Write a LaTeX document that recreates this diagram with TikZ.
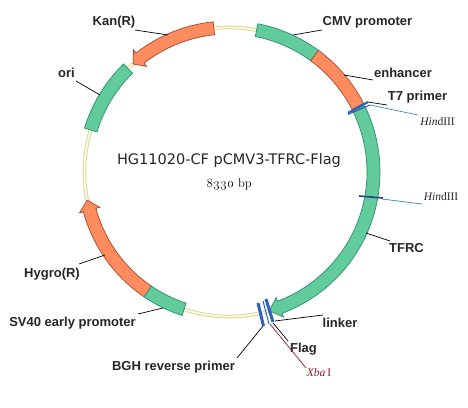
\documentclass[tikz,border=0pt]{standalone}
\usepackage{fontspec}
\setmainfont{Liberation Sans}
\newfontfamily\titlefont{DejaVu Sans}
\newfontfamily\serifpart{Liberation Serif}
\newfontfamily\oldnum[Numbers=OldStyle]{Latin Modern Roman}
\usetikzlibrary{calc}
\definecolor{grn}{HTML}{62CB9B}
\definecolor{grnb}{HTML}{2A8F6C}
\definecolor{org}{HTML}{FF8B5E}
\definecolor{orgb}{HTML}{A5492C}
\definecolor{ringo}{HTML}{D9D69A}
\definecolor{ringi}{HTML}{FDFBDD}
\definecolor{mark}{HTML}{2F5FC0}
\definecolor{site}{HTML}{3A8DB0}
\definecolor{xba}{HTML}{8A1A2C}
\tikzset{
  x=1pt,y=1pt,
  lab/.style={font=\fontsize{13}{15}\selectfont\bfseries, inner sep=0pt, text=black!85},
  enz/.style={font=\fontsize{11.5}{13}\selectfont\serifpart, inner sep=0pt, text=black!85},
  lead/.style={draw=black, line width=0.7pt},
  sitelead/.style={draw=site, line width=0.7pt},
  xbalead/.style={draw=xba, line width=0.7pt},
  grnseg/.style={fill=grn, draw=grnb, line width=0.7pt},
  orgseg/.style={fill=org, draw=orgb, line width=0.7pt},
  bar/.style={draw=mark, line width=3pt},
  thinbar/.style={draw=mark, line width=1pt},
}
\newcommand{\seg}[3]{% style, from angle, to angle
  \path[#1] (c) ++(#2:151) arc[start angle=#2,end angle=#3,radius=151]
    -- ($(c)+(#3:138)$) arc[start angle=#3,end angle=#2,radius=138] -- cycle;}
\newcommand{\arrowseg}[4]{% style, from, base, tip
  \path[#1] (c) ++(#2:151) arc[start angle=#2,end angle=#3,radius=151]
    -- ($(c)+(#3:155)$) -- ($(c)+(#4:144.5)$) -- ($(c)+(#3:134)$) -- ($(c)+(#3:138)$)
    arc[start angle=#3,end angle=#2,radius=138] -- cycle;}
\begin{document}
\begin{tikzpicture}
\useasboundingbox (0,0) rectangle (468,407);
\fill[white] (0,0) rectangle (468,407);
\coordinate (c) at (229,235);
% backbone
\draw[ringo, line width=3.6pt] (c) circle[radius=144.5];
\draw[ringi, line width=1.8pt] (c) circle[radius=144.5];
% features
\seg{grnseg}{79}{53.7}
\seg{orgseg}{53.7}{27}
\arrowseg{grnseg}{26}{-69.4}{-73.8}
\arrowseg{orgseg}{96}{128}{131.6}
\seg{grnseg}{134.3}{163.1}
\arrowseg{orgseg}{235.8}{195.3}{191.2}
\seg{grnseg}{235.8}{251.9}
% labels
\node[lab] (cmv) at (367.5,385) {CMV promoter};
\node[lab] (enh) at (403,334) {enhancer};
\node[lab] (t7) at (417.5,310) {T7 primer};
\node[enz] (h1) at (437.5,285) {\textit{Hin}dIII};
\node[enz] (h2) at (441,210) {\textit{Hin}dIII};
\node[lab] (tfrc) at (406.5,159) {TFRC};
\node[lab] (linker) at (340,84) {linker};
\node[lab] (flag) at (303.5,58) {Flag};
\node[enz, text=xba] (xb) at (319,34) {\textit{Xba}\,I};
\node[lab] (bgh) at (173.5,40) {BGH reverse primer};
\node[lab] (sv) at (72.5,84) {SV40 early promoter};
\node[lab] (hyg) at (52,133) {Hygro(R)};
\node[lab] (ori) at (66.5,334) {ori};
\node[lab] (kan) at (114,385) {Kan(R)};
\node[font=\fontsize{14.5}{16}\selectfont\titlefont, inner sep=0pt, text=black!85] (title) at (229,246) {HG11020-CF pCMV3-TFRC-Flag};
\node[font=\fontsize{12.5}{14}\selectfont\oldnum, inner sep=0pt, text=black] (bp) at (229,222) {8330 bp};
% anchors of the leaders on the features
\coordinate (acmv) at (293,372);
\coordinate (aenh) at (344,332);
\coordinate (at7) at (368,305);
\coordinate (ah1) at (370,302);
\coordinate (ah2) at (382,208);
\coordinate (atf) at (366,174);
\coordinate (alink) at (275,86);
\coordinate (aflag) at (273,84);
\coordinate (axb) at (270,83);
\coordinate (abgh) at (263,81);
\coordinate (asv) at (163,99);
\coordinate (ahyg) at (105,152);
\coordinate (aori) at (100,312);
\coordinate (akan) at (168,372);
% free ends of the leaders, just short of the texts
\coordinate (ecmv) at (322,377);
\coordinate (eenh) at (373,327);
\coordinate (et7) at (387,302);
\coordinate (eh1) at (418,292);
\coordinate (eh2) at (422,203);
\coordinate (etf) at (390,166);
\coordinate (elink) at (323,92);
\coordinate (eflag) at (288,66);
\coordinate (exb) at (306,39);
\coordinate (ebgh) at (237,49);
\coordinate (esv) at (138,93);
\coordinate (ehyg) at (79,143);
\coordinate (eori) at (76,326);
\coordinate (ekan) at (135,377);
% leaders
\draw[lead] (acmv) -- (ecmv);
\draw[lead] (aenh) -- (eenh);
\draw[lead] (at7) -- (et7);
\draw[sitelead] (ah1) -- (eh1);
\draw[sitelead] (ah2) -- (eh2);
\draw[lead] (atf) -- (etf);
\draw[lead] (alink) -- (elink);
\draw[lead] (aflag) -- (eflag);
\draw[xbalead] (axb) -- (exb);
\draw[lead] (abgh) -- (ebgh);
\draw[lead] (asv) -- (esv);
\draw[lead] (ahyg) -- (ehyg);
\draw[lead] (aori) -- (eori);
\draw[lead] (akan) -- (ekan);
% site markers
\draw[bar, line width=2.2pt] (348,294) -- (368,305);
\draw[thinbar] (348,292.5) -- (370,302);
\draw[draw=mark!70!black, line width=1.6pt] (359,211) -- (383,209);
\draw[bar] (258,104) -- (263.5,81);
\draw[thinbar] (263,106) -- (269,83);
\draw[bar] (266,108) -- (273,85);
\end{tikzpicture}
\end{document}
